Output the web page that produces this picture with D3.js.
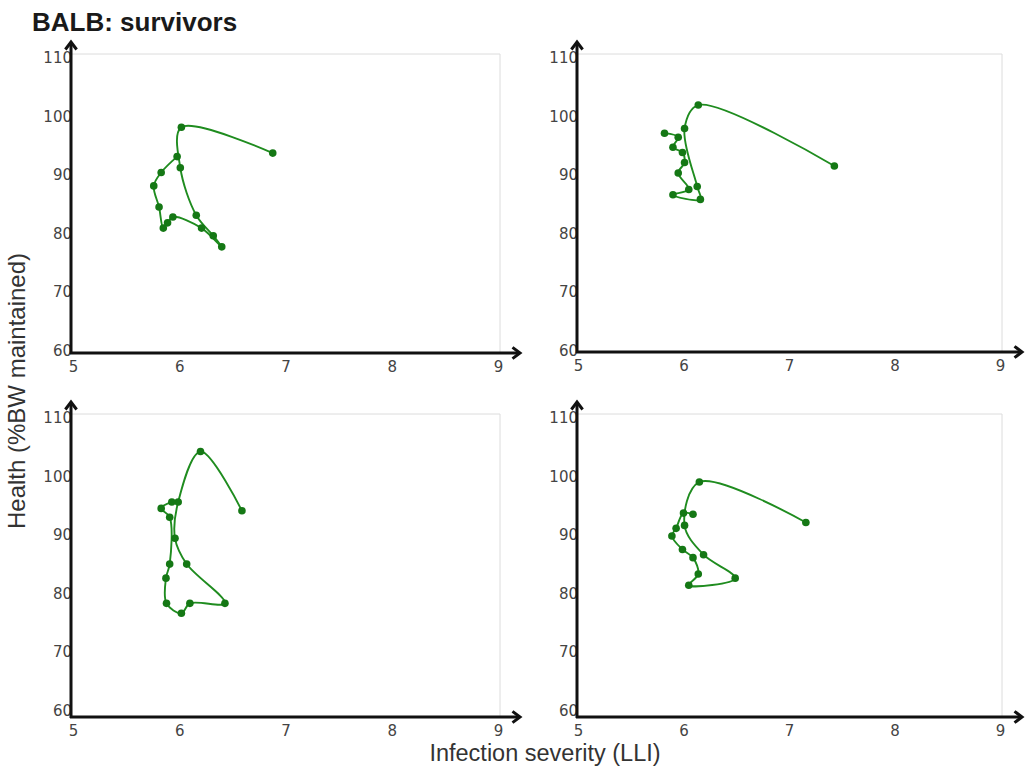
<!DOCTYPE html>
<html>
<head>
<meta charset="utf-8">
<script src="https://cdn.jsdelivr.net/npm/d3@7"></script>
<style>
  html, body { margin: 0; padding: 0; background: #fff; }
  svg { display: block; font-family: "Liberation Sans", Arial, sans-serif; }
</style>
</head>
<body>
<svg id="chart" width="1027" height="772"></svg>
<script>
// Axis ticks
const severityTicks = [5, 6, 7, 8, 9];
const healthTicks = [60, 70, 80, 90, 100, 110];

// Daily trajectories in disease space, listed in path order:
// infection severity (LLI) against health (%BW maintained)
const panelA_severity = [6.88, 6.02, 6.01, 6.16, 6.32, 6.40, 6.21, 5.94, 5.89, 5.85, 5.81, 5.76, 5.83, 5.98];
const panelA_health   = [93.6, 98.0, 91.1, 83.0, 79.5, 77.6, 80.8, 82.7, 81.7, 80.8, 84.4, 88.0, 90.3, 93.0];

const panelB_severity = [7.43, 6.14, 6.01, 6.13, 6.16, 5.90, 6.05, 5.95, 6.01, 5.99, 5.90, 5.95, 5.82];
const panelB_health   = [91.4, 101.8, 97.8, 87.9, 85.7, 86.5, 87.4, 90.2, 92.0, 93.7, 94.6, 96.3, 97.0];

const panelC_severity = [6.59, 6.20, 5.99, 5.96, 6.07, 6.43, 6.10, 6.02, 5.88, 5.875, 5.91, 5.91, 5.83, 5.93];
const panelC_health   = [94.0, 104.1, 95.5, 89.3, 84.9, 78.2, 78.2, 76.5, 78.2, 82.5, 84.9, 92.9, 94.4, 95.5];

const panelD_severity = [7.16, 6.15, 6.01, 6.19, 6.49, 6.05, 6.14, 6.09, 5.99, 5.89, 5.93, 6.00, 6.09];
const panelD_health   = [92.0, 98.9, 91.5, 86.5, 82.5, 81.3, 83.2, 86.0, 87.4, 89.7, 91.0, 93.6, 93.4];

// Panel frames: axis line positions and scale ranges
const panels = [
  { sev: panelA_severity, hp: panelA_health, axisX: 71,  axisY: 353, top: 54,  right: 500,  xr: [73, 498],  yr: [350, 57] },
  { sev: panelB_severity, hp: panelB_health, axisX: 577, axisY: 352, top: 54,  right: 1002, xr: [578, 1000], yr: [350, 57] },
  { sev: panelC_severity, hp: panelC_health, axisX: 71,  axisY: 717, top: 414, right: 500,  xr: [73, 498],  yr: [710, 417] },
  { sev: panelD_severity, hp: panelD_health, axisX: 577, axisY: 717, top: 414, right: 1002, xr: [578, 1000], yr: [710, 417] }
];

const svg = d3.select("#chart");
const lineColor = "#1f8c1f";
const dotColor = "#157815";
const tickFont = 15;
const tickFamily = "DejaVu Sans, Verdana, sans-serif";

function arrowHead(g, x, y, dir) {
  // open chevron at the end of an axis
  const s = 7.5;
  const pts = dir === "up"
    ? [[x - s * 0.75, y + s], [x, y], [x + s * 0.75, y + s]]
    : [[x - s, y - s * 0.75], [x, y], [x - s, y + s * 0.75]];
  g.append("path")
    .attr("d", d3.line()(pts))
    .attr("fill", "none")
    .attr("stroke", "#111")
    .attr("stroke-width", 3)
    .attr("stroke-linejoin", "miter");
}

panels.forEach(p => {
  const x = d3.scaleLinear().domain([5, 9]).range(p.xr);
  const y = d3.scaleLinear().domain([60, 110]).range(p.yr);
  const g = svg.append("g");

  // light frame on top and right
  g.append("path")
    .attr("d", `M${p.axisX},${p.top}H${p.right}V${p.axisY}`)
    .attr("fill", "none")
    .attr("stroke", "#dcdcdc")
    .attr("stroke-width", 1);

  // tick labels
  const xAxis = g.append("g")
    .attr("transform", `translate(0,${p.axisY})`)
    .call(d3.axisBottom(x).tickValues(severityTicks).tickSize(0).tickPadding(8).tickFormat(d3.format("d")));
  xAxis.select(".domain").remove();
  xAxis.selectAll("text")
    .attr("font-size", tickFont)
    .attr("font-family", tickFamily)
    .attr("fill", "#444");

  const yAxis = g.append("g")
    .attr("transform", `translate(${p.axisX + 1},0)`)
    .call(d3.axisLeft(y).tickValues(healthTicks).tickSize(0).tickPadding(0).tickFormat(d3.format("d")));
  yAxis.select(".domain").remove();
  yAxis.selectAll("text")
    .attr("font-size", tickFont)
    .attr("font-family", tickFamily)
    .attr("fill", "#444")
    .attr("dy", "0.36em");

  // axis lines with arrows
  g.append("line")
    .attr("x1", p.axisX).attr("x2", p.axisX)
    .attr("y1", p.axisY + 1).attr("y2", p.top - 11)
    .attr("stroke", "#111").attr("stroke-width", 3);
  arrowHead(g, p.axisX, p.top - 12, "up");
  g.append("line")
    .attr("x1", p.axisX - 1).attr("x2", p.right + 19)
    .attr("y1", p.axisY).attr("y2", p.axisY)
    .attr("stroke", "#111").attr("stroke-width", 3);
  arrowHead(g, p.right + 20, p.axisY, "right");

  // trajectory
  const pts = p.sev.map((s, i) => [x(s), y(p.hp[i])]);
  g.append("path")
    .attr("d", d3.line().curve(d3.curveCatmullRom.alpha(0.5))(pts))
    .attr("fill", "none")
    .attr("stroke", lineColor)
    .attr("stroke-width", 1.9);
  g.selectAll("circle.pt")
    .data(pts)
    .join("circle")
    .attr("class", "pt")
    .attr("cx", d => d[0])
    .attr("cy", d => d[1])
    .attr("r", 3.8)
    .attr("fill", dotColor);
});

// titles
svg.append("text")
  .attr("x", 32).attr("y", 31)
  .attr("font-size", 26).attr("font-weight", "bold")
  .attr("fill", "#1a1a1a")
  .text("BALB: survivors");

svg.append("text")
  .attr("transform", "translate(25,391) rotate(-90)")
  .attr("text-anchor", "middle")
  .attr("font-size", 24)
  .attr("fill", "#333")
  .text("Health (%BW maintained)");

svg.append("text")
  .attr("x", 545).attr("y", 761)
  .attr("text-anchor", "middle")
  .attr("font-size", 23.5)
  .attr("fill", "#333")
  .text("Infection severity (LLI)");
</script>
</body>
</html>
